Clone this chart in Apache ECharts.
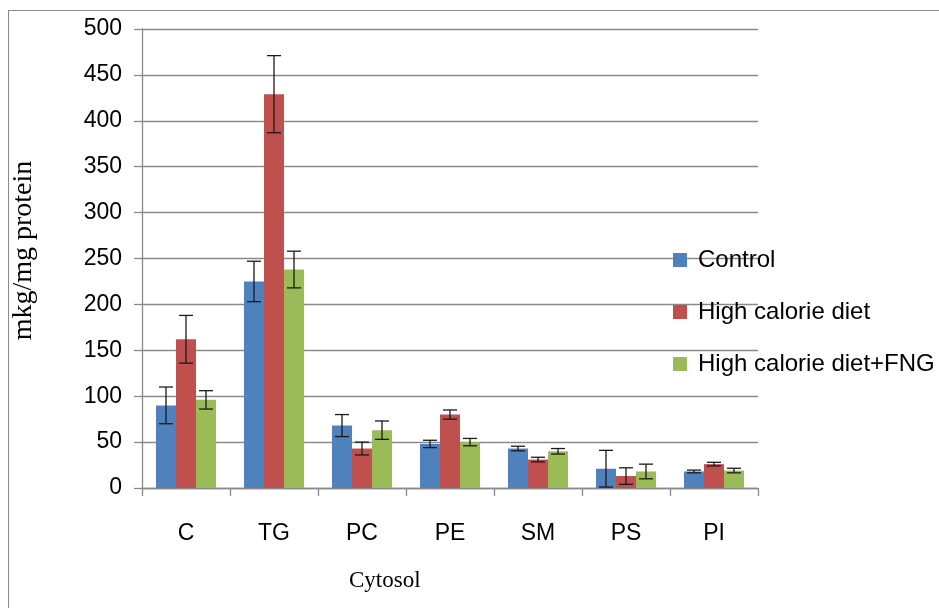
<!DOCTYPE html>
<html>
<head>
<meta charset="utf-8">
<style>
  html, body { margin: 0; padding: 0; background: #fff; overflow: hidden; }
  #frame { position: absolute; left: 8px; top: 10px; width: 2000px; height: 2000px; border: 1.5px solid #8a8a8a; box-sizing: border-box; }
  #chart { position: absolute; left: 0; top: 0; width: 939px; height: 608px; }
</style>
<script src="https://cdn.jsdelivr.net/npm/echarts@6/dist/echarts.min.js"></script>
</head>
<body>
<div id="frame"></div>
<div id="chart"></div>
<script>
const categories = ['C', 'TG', 'PC', 'PE', 'SM', 'PS', 'PI'];
const seriesNames = ['Control', 'High calorie diet', 'High calorie diet+FNG'];
const controlValues = [90, 225, 68, 48, 43, 21, 18];
const controlErrors = [20, 22, 12, 4, 2.5, 20, 1.5];
const highCalValues = [162, 429, 43, 80, 31, 13, 26];
const highCalErrors = [26, 42, 7, 5, 2.5, 9, 2];
const fngValues = [96, 238, 63, 50, 40, 18, 19];
const fngErrors = [10, 20, 10, 4, 3, 8, 2.5];
const yTicks = { min: 0, max: 500, interval: 50 };

const colors = ['#4F81BD', '#C0504D', '#9BBB59'];
const BAR_W = 20;
const CAP = 14;

const values = [controlValues, highCalValues, fngValues];
const errors = [controlErrors, highCalErrors, fngErrors];

function errorSeries(idx) {
  const offset = (idx - 1) * BAR_W;
  return {
    type: 'custom',
    name: seriesNames[idx] + ' error',
    z: 10,
    silent: true,
    data: categories.map((c, i) => [i, values[idx][i] - errors[idx][i], values[idx][i] + errors[idx][i]]),
    renderItem: function (params, api) {
      const lo = api.coord([api.value(0), api.value(1)]);
      const hi = api.coord([api.value(0), api.value(2)]);
      const x = lo[0] + offset;
      const st = { stroke: '#1a1a1a', lineWidth: 1.3 };
      return {
        type: 'group',
        children: [
          { type: 'line', shape: { x1: x, y1: lo[1], x2: x, y2: hi[1] }, style: st },
          { type: 'line', shape: { x1: x - CAP / 2, y1: lo[1], x2: x + CAP / 2, y2: lo[1] }, style: st },
          { type: 'line', shape: { x1: x - CAP / 2, y1: hi[1], x2: x + CAP / 2, y2: hi[1] }, style: st }
        ]
      };
    }
  };
}

const chart = echarts.init(document.getElementById('chart'));
chart.setOption({
  animation: false,
  color: colors,
  title: {
    text: 'Cytosol',
    left: 344,
    top: 564,
    textStyle: { fontFamily: 'Liberation Serif', fontSize: 23, fontWeight: 'normal', color: '#000' }
  },
  legend: {
    orient: 'vertical',
    left: 668,
    top: 243,
    itemWidth: 14,
    itemHeight: 14,
    itemGap: 28,
    icon: 'rect',
    data: seriesNames,
    textStyle: { fontFamily: 'Liberation Sans', fontSize: 24, color: '#000', lineHeight: 24, padding: [0, 0, 0, 6] }
  },
  grid: { left: 142, right: 181, top: 29, bottom: 120, containLabel: false },
  xAxis: {
    type: 'category',
    data: categories,
    axisLine: { lineStyle: { color: '#8a8a8a', width: 1.3 } },
    axisTick: { show: true, length: 8, lineStyle: { color: '#8a8a8a', width: 1.3 } },
    axisLabel: { margin: 34, fontFamily: 'Liberation Sans', fontSize: 23, color: '#000' }
  },
  yAxis: {
    type: 'value',
    min: yTicks.min,
    max: yTicks.max,
    interval: yTicks.interval,
    name: 'mkg/mg protein',
    nameLocation: 'middle',
    nameGap: 104,
    nameTextStyle: { fontFamily: 'Liberation Serif', fontSize: 28, color: '#000', padding: [0, 0, 0, 16] },
    axisLine: { show: true, lineStyle: { color: '#8a8a8a', width: 1.3 } },
    axisTick: { show: true, length: 8, lineStyle: { color: '#8a8a8a', width: 1.3 } },
    axisLabel: { margin: 20, fontFamily: 'Liberation Sans', fontSize: 23, color: '#000' },
    splitLine: { lineStyle: { color: '#8a8a8a', width: 1.3 } }
  },
  series: [
    { type: 'bar', name: seriesNames[0], data: controlValues, barWidth: BAR_W, barGap: '0%' },
    { type: 'bar', name: seriesNames[1], data: highCalValues, barWidth: BAR_W, barGap: '0%' },
    { type: 'bar', name: seriesNames[2], data: fngValues, barWidth: BAR_W, barGap: '0%' },
    errorSeries(0),
    errorSeries(1),
    errorSeries(2)
  ]
});
</script>
</body>
</html>
